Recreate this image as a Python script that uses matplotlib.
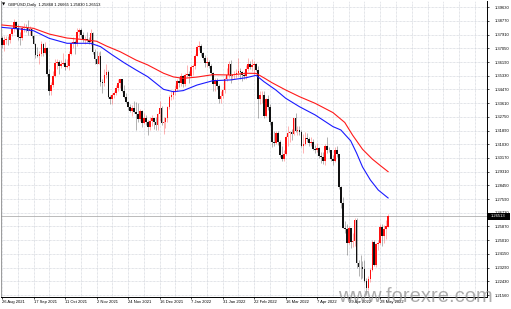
# gbpusd_daily.py
# MT4-style GBPUSD daily candle chart with two moving averages
import numpy as np
import matplotlib
matplotlib.use("Agg")
import matplotlib.pyplot as plt
from matplotlib.transforms import blended_transform_factory
from matplotlib.patches import Rectangle

OUT_PATH = "out.png"

chart_title = "GBPUSD,Daily  1.25868 1.26665 1.25830 1.26513"
last_price = 1.26513
last_price_label = "1.26513"
watermark = "www.forexre.com"

# daily bars, 26 Aug 2021 .. 27 May 2022
opens = [
    1.3770, 1.3725, 1.3760, 1.3760, 1.3755, 1.3795, 1.3825, 1.3870, 1.3835, 1.3775,
    1.3770, 1.3830, 1.3840, 1.3830, 1.3815, 1.3825, 1.3780, 1.3735, 1.3665, 1.3660,
    1.3670, 1.3730, 1.3675, 1.3705, 1.3545, 1.3435, 1.3475, 1.3530, 1.3615, 1.3620,
    1.3595, 1.3610, 1.3615, 1.3590, 1.3595, 1.3670, 1.3740, 1.3745, 1.3735, 1.3805,
    1.3820, 1.3790, 1.3755, 1.3765, 1.3760, 1.3745, 1.3800, 1.3680, 1.3640, 1.3610,
    1.3660, 1.3495, 1.3485, 1.3540, 1.3555, 1.3400, 1.3390, 1.3415, 1.3425, 1.3455,
    1.3485, 1.3510, 1.3440, 1.3400, 1.3370, 1.3335, 1.3315, 1.3330, 1.3305, 1.3295,
    1.3260, 1.3310, 1.3235, 1.3265, 1.3240, 1.3210, 1.3250, 1.3265, 1.3240, 1.3225,
    1.3295, 1.3330, 1.3235, 1.3240, 1.3265, 1.3335, 1.3400, 1.3410, 1.3440, 1.3450,
    1.3500, 1.3490, 1.3530, 1.3480, 1.3535, 1.3545, 1.3530, 1.3590, 1.3595, 1.3660,
    1.3715, 1.3720, 1.3675, 1.3645, 1.3615, 1.3620, 1.3595, 1.3550, 1.3480, 1.3505,
    1.3470, 1.3385, 1.3405, 1.3445, 1.3510, 1.3535, 1.3605, 1.3530, 1.3535, 1.3545,
    1.3550, 1.3560, 1.3555, 1.3535, 1.3530, 1.3575, 1.3610, 1.3590, 1.3600, 1.3605,
    1.3570, 1.3385, 1.3410, 1.3415, 1.3280, 1.3385, 1.3340, 1.3245, 1.3115, 1.3110,
    1.3175, 1.3115, 1.3035, 1.3010, 1.3040, 1.3150, 1.3175, 1.3180, 1.3170, 1.3265,
    1.3185, 1.3190, 1.3180, 1.3095, 1.3105, 1.3140, 1.3135, 1.3110, 1.3115, 1.3075,
    1.3070, 1.3080, 1.3030, 1.3025, 1.3000, 1.3095, 1.3070, 1.3065, 1.3010, 1.3000,
    1.3070, 1.3040, 1.2835, 1.2735, 1.2580, 1.2570, 1.2485, 1.2575, 1.2490, 1.2495,
    1.2625, 1.2355, 1.2335, 1.2330, 1.2320, 1.2245, 1.2200, 1.2260, 1.2315, 1.2490,
    1.2345, 1.2475, 1.2485, 1.2585, 1.2530, 1.2570, 1.25868,
]
highs = [
    1.3780, 1.3780, 1.3785, 1.3780, 1.3800, 1.3835, 1.3890, 1.3875, 1.3860, 1.3810,
    1.3845, 1.3865, 1.3860, 1.3885, 1.3845, 1.3830, 1.3790, 1.3740, 1.3715, 1.3690,
    1.3750, 1.3740, 1.3745, 1.3715, 1.3575, 1.3495, 1.3560, 1.3640, 1.3640, 1.3630,
    1.3635, 1.3675, 1.3640, 1.3640, 1.3690, 1.3745, 1.3775, 1.3760, 1.3830, 1.3835,
    1.3830, 1.3810, 1.3780, 1.3810, 1.3775, 1.3825, 1.3810, 1.3700, 1.3690, 1.3680,
    1.3690, 1.3515, 1.3575, 1.3610, 1.3570, 1.3415, 1.3425, 1.3440, 1.3475, 1.3515,
    1.3515, 1.3515, 1.3475, 1.3425, 1.3375, 1.3355, 1.3350, 1.3375, 1.3370, 1.3365,
    1.3325, 1.3320, 1.3300, 1.3285, 1.3255, 1.3275, 1.3285, 1.3270, 1.3275, 1.3300,
    1.3375, 1.3345, 1.3275, 1.3275, 1.3345, 1.3415, 1.3440, 1.3445, 1.3475, 1.3510,
    1.3525, 1.3550, 1.3535, 1.3550, 1.3600, 1.3560, 1.3600, 1.3605, 1.3670, 1.3725,
    1.3750, 1.3730, 1.3685, 1.3665, 1.3650, 1.3630, 1.3605, 1.3555, 1.3520, 1.3520,
    1.3480, 1.3435, 1.3450, 1.3525, 1.3580, 1.3625, 1.3630, 1.3545, 1.3560, 1.3575,
    1.3645, 1.3585, 1.3565, 1.3555, 1.3600, 1.3645, 1.3625, 1.3640, 1.3625, 1.3615,
    1.3595, 1.3440, 1.3440, 1.3435, 1.3395, 1.3410, 1.3355, 1.3250, 1.3185, 1.3185,
    1.3185, 1.3130, 1.3090, 1.3070, 1.3160, 1.3215, 1.3185, 1.3200, 1.3270, 1.3300,
    1.3220, 1.3215, 1.3190, 1.3165, 1.3180, 1.3175, 1.3150, 1.3150, 1.3135, 1.3100,
    1.3110, 1.3085, 1.3055, 1.3055, 1.3105, 1.3150, 1.3085, 1.3070, 1.3035, 1.3085,
    1.3090, 1.3045, 1.2840, 1.2770, 1.2620, 1.2600, 1.2590, 1.2580, 1.2545, 1.2640,
    1.2640, 1.2375, 1.2405, 1.2370, 1.2375, 1.2265, 1.2275, 1.2325, 1.2500, 1.2500,
    1.2485, 1.2500, 1.2600, 1.2600, 1.2595, 1.2625, 1.26665,
]
lows = [
    1.3710, 1.3690, 1.3735, 1.3725, 1.3740, 1.3780, 1.3805, 1.3825, 1.3760, 1.3725,
    1.3755, 1.3810, 1.3810, 1.3790, 1.3790, 1.3770, 1.3730, 1.3645, 1.3650, 1.3610,
    1.3660, 1.3660, 1.3670, 1.3530, 1.3410, 1.3410, 1.3465, 1.3525, 1.3575, 1.3545,
    1.3580, 1.3600, 1.3570, 1.3580, 1.3570, 1.3665, 1.3710, 1.3670, 1.3720, 1.3770,
    1.3775, 1.3745, 1.3735, 1.3745, 1.3730, 1.3725, 1.3670, 1.3605, 1.3605, 1.3605,
    1.3470, 1.3425, 1.3470, 1.3520, 1.3395, 1.3355, 1.3355, 1.3395, 1.3410, 1.3440,
    1.3455, 1.3430, 1.3395, 1.3360, 1.3320, 1.3305, 1.3280, 1.3300, 1.3195, 1.3240,
    1.3250, 1.3210, 1.3230, 1.3225, 1.3160, 1.3195, 1.3215, 1.3200, 1.3190, 1.3195,
    1.3250, 1.3225, 1.3170, 1.3205, 1.3245, 1.3325, 1.3380, 1.3390, 1.3410, 1.3435,
    1.3460, 1.3470, 1.3465, 1.3470, 1.3525, 1.3490, 1.3525, 1.3535, 1.3575, 1.3655,
    1.3695, 1.3655, 1.3635, 1.3590, 1.3590, 1.3580, 1.3535, 1.3435, 1.3440, 1.3450,
    1.3360, 1.3360, 1.3395, 1.3425, 1.3500, 1.3520, 1.3490, 1.3505, 1.3510, 1.3520,
    1.3530, 1.3515, 1.3500, 1.3510, 1.3515, 1.3560, 1.3575, 1.3565, 1.3535, 1.3565,
    1.3270, 1.3355, 1.3360, 1.3270, 1.3275, 1.3320, 1.3225, 1.3085, 1.3090, 1.3105,
    1.3100, 1.3025, 1.3000, 1.2995, 1.3035, 1.3090, 1.3115, 1.3130, 1.3160, 1.3180,
    1.3160, 1.3160, 1.3085, 1.3050, 1.3100, 1.3115, 1.3095, 1.3090, 1.3065, 1.3050,
    1.3055, 1.3015, 1.2985, 1.2980, 1.2975, 1.3050, 1.3055, 1.3000, 1.2975, 1.2990,
    1.3025, 1.2825, 1.2705, 1.2575, 1.2545, 1.2410, 1.2480, 1.2455, 1.2460, 1.2465,
    1.2325, 1.2275, 1.2260, 1.2265, 1.2240, 1.2160, 1.2190, 1.2240, 1.2310, 1.2340,
    1.2335, 1.2440, 1.2480, 1.2465, 1.2485, 1.2510, 1.25830,
]
closes = [
    1.3725, 1.3760, 1.3760, 1.3755, 1.3795, 1.3825, 1.3870, 1.3835, 1.3775, 1.3770,
    1.3830, 1.3840, 1.3830, 1.3815, 1.3825, 1.3780, 1.3735, 1.3665, 1.3660, 1.3670,
    1.3730, 1.3675, 1.3705, 1.3545, 1.3435, 1.3475, 1.3530, 1.3615, 1.3620, 1.3595,
    1.3610, 1.3615, 1.3590, 1.3595, 1.3670, 1.3740, 1.3745, 1.3735, 1.3805, 1.3820,
    1.3790, 1.3755, 1.3765, 1.3760, 1.3745, 1.3800, 1.3680, 1.3640, 1.3610, 1.3660,
    1.3495, 1.3485, 1.3540, 1.3555, 1.3400, 1.3390, 1.3415, 1.3425, 1.3455, 1.3485,
    1.3510, 1.3440, 1.3400, 1.3370, 1.3335, 1.3315, 1.3330, 1.3305, 1.3295, 1.3260,
    1.3310, 1.3235, 1.3265, 1.3240, 1.3210, 1.3250, 1.3265, 1.3240, 1.3225, 1.3295,
    1.3330, 1.3235, 1.3240, 1.3265, 1.3335, 1.3400, 1.3410, 1.3440, 1.3450, 1.3500,
    1.3490, 1.3530, 1.3480, 1.3535, 1.3545, 1.3530, 1.3590, 1.3595, 1.3660, 1.3715,
    1.3720, 1.3675, 1.3645, 1.3615, 1.3620, 1.3595, 1.3550, 1.3480, 1.3505, 1.3470,
    1.3385, 1.3405, 1.3445, 1.3510, 1.3535, 1.3605, 1.3530, 1.3535, 1.3545, 1.3550,
    1.3560, 1.3555, 1.3535, 1.3530, 1.3575, 1.3610, 1.3590, 1.3600, 1.3605, 1.3570,
    1.3385, 1.3410, 1.3415, 1.3280, 1.3385, 1.3340, 1.3245, 1.3115, 1.3110, 1.3175,
    1.3115, 1.3035, 1.3010, 1.3040, 1.3150, 1.3175, 1.3180, 1.3170, 1.3265, 1.3185,
    1.3190, 1.3180, 1.3095, 1.3105, 1.3140, 1.3135, 1.3110, 1.3115, 1.3075, 1.3070,
    1.3080, 1.3030, 1.3025, 1.3000, 1.3095, 1.3070, 1.3065, 1.3010, 1.3000, 1.3070,
    1.3040, 1.2835, 1.2735, 1.2580, 1.2570, 1.2485, 1.2575, 1.2490, 1.2495, 1.2625,
    1.2355, 1.2335, 1.2330, 1.2320, 1.2245, 1.2200, 1.2260, 1.2315, 1.2490, 1.2345,
    1.2475, 1.2485, 1.2585, 1.2530, 1.2570, 1.2587, 1.26513,
]

# moving averages (bar index, price)
ma_red_bars = [0, 9, 16, 24, 33, 40, 48, 53, 60, 68, 74, 82, 87, 92, 99, 107, 116,
               124, 129, 133, 137, 144, 151, 159, 168, 174, 178, 183, 188, 192, 196]
ma_red = [1.3852, 1.3841, 1.3831, 1.3795, 1.3770, 1.3762, 1.3750, 1.3720, 1.3684,
          1.3632, 1.3601, 1.3549, 1.3526, 1.3517, 1.3525, 1.3540, 1.3538, 1.3549,
          1.3548, 1.3520, 1.3490, 1.3444, 1.3402, 1.3360, 1.3302, 1.3240, 1.3160,
          1.3072, 1.3010, 1.2970, 1.2931]
ma_blue_bars = [0, 9, 16, 24, 33, 40, 45, 50, 56, 62, 68, 74, 82, 87, 92, 99, 107,
                116, 124, 129, 133, 139, 144, 151, 159, 168, 172, 177, 180, 183, 187,
                191, 196]
ma_blue = [1.3837, 1.3827, 1.3816, 1.3768, 1.3737, 1.3737, 1.3737, 1.3716, 1.3664,
           1.3615, 1.3570, 1.3527, 1.3448, 1.3433, 1.3440, 1.3475, 1.3502, 1.3507,
           1.3521, 1.3536, 1.3496, 1.3444, 1.3392, 1.3339, 1.3287, 1.3214, 1.3193,
           1.3125, 1.3048, 1.2961, 1.2879, 1.2816, 1.2766]

date_labels = ["26 Aug 2021", "17 Sep 2021", "11 Oct 2021", "2 Nov 2021", "24 Nov 2021",
               "16 Dec 2021", "7 Jan 2022", "31 Jan 2022", "22 Feb 2022", "16 Mar 2022",
               "7 Apr 2022", "29 Apr 2022", "23 May 2022"]
price_labels = ["1.39630", "1.38770", "1.37910", "1.37050", "1.36190", "1.35330",
                "1.34470", "1.33610", "1.32750", "1.31890", "1.31030", "1.30170",
                "1.29310", "1.28450", "1.27590", "1.26730", "1.25870", "1.25010",
                "1.24150", "1.23290", "1.22430", "1.21560"]

BULL = "#ff1010"
BEAR = "#111111"
GRID = "#c6cbd3"


def main():
    plt.rcParams["font.family"] = ["Liberation Sans Narrow", "Liberation Sans", "DejaVu Sans"]
    fig = plt.figure(figsize=(5.11, 3.09), dpi=100)
    ax = fig.add_axes([1 / 511, 12 / 309, 486 / 511, 296 / 309])

    o, h, l, c = (np.array(v) for v in (opens, highs, lows, closes))
    x = np.arange(len(c))
    cols = np.where(c >= o, BULL, BEAR)

    ax.vlines(x, l, h, colors=cols, lw=0.5, alpha=0.45, zorder=2)
    ax.bar(x, np.maximum(np.abs(c - o), 0.0003), bottom=np.minimum(o, c),
           width=0.85, color=cols, linewidth=0, zorder=3)

    ax.plot(ma_red_bars, ma_red, color="#ff1a1a", lw=0.8, zorder=4)
    ax.plot(ma_blue_bars, ma_blue, color="#1a1aff", lw=0.8, zorder=4)
    ax.axhline(last_price, color="#b0b0b0", lw=0.6, zorder=1)

    ax.set_xlim(-0.5, 246.2)
    ax.set_ylim(1.21444, 1.40025)

    # time axis: labels every 16 bars, grid every 8 bars
    major = list(range(0, 247, 16))
    ax.set_xticks(major)
    ax.set_xticklabels(date_labels + [""] * (len(major) - len(date_labels)), ha="left")
    ax.set_xticks(range(8, 247, 16), minor=True)
    ax.tick_params(axis="x", which="major", direction="out", length=1.5, width=0.5,
                   pad=0.8, labelsize=3.0, colors="black")
    ax.tick_params(axis="x", which="minor", length=0)

    price_ticks = [float(s) for s in price_labels]
    ax.yaxis.tick_right()
    ax.set_yticks(price_ticks)
    ax.set_yticklabels(price_labels)
    ax.tick_params(axis="y", direction="out", length=1.5, width=0.5, pad=4.0,
                   labelsize=3.0, colors="black")

    ax.grid(True, which="both", color=GRID, lw=0.5, ls=(0, (1, 1)))
    ax.set_axisbelow(True)

    ax.spines["top"].set_visible(False)
    ax.spines["left"].set_color("#8a8a8a")
    ax.spines["left"].set_linewidth(0.6)
    ax.spines["right"].set_linewidth(0.7)
    ax.spines["bottom"].set_linewidth(0.7)

    # current price box on the price scale
    trans = blended_transform_factory(fig.transFigure, ax.transData)
    ax.add_patch(Rectangle((487 / 511, last_price - 0.0022), 23 / 511, 0.0044,
                           transform=trans, facecolor="black", edgecolor="none",
                           clip_on=False, zorder=6))
    ax.text(498.5 / 511, last_price, last_price_label, transform=trans, color="white",
            fontsize=3.0, ha="center", va="center", zorder=7, clip_on=False)

    fig.text(2 / 511, 1 - 5 / 309, "\u25bc", fontsize=3.0, va="center", ha="left",
             family=["DejaVu Sans"])
    fig.text(8 / 511, 1 - 5 / 309, chart_title, fontsize=3.0, va="center", ha="left")
    fig.text(338 / 511, 7 / 309, watermark, fontsize=14.5, color="#8c8c8c", alpha=0.7,
             va="baseline", ha="left", zorder=10)

    fig.savefig(OUT_PATH, dpi=100)
    plt.close(fig)


if __name__ == "__main__":
    main()
